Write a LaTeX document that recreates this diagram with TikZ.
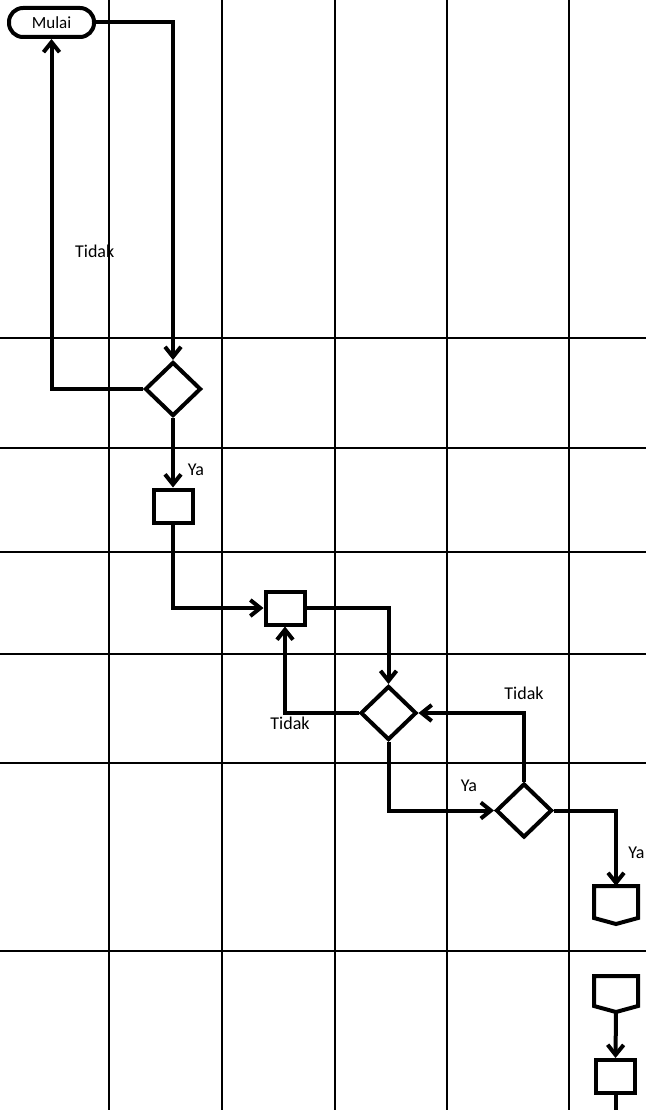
\documentclass[tikz,border=0pt]{standalone}
\usepackage{fontspec}
\setmainfont{Carlito}
\usetikzlibrary{arrows.meta,shapes.geometric}
\begin{document}
\begin{tikzpicture}[x=1pt,y=-1pt,
  gridline/.style={line width=2.4pt},
  conn/.style={line width=4pt},
  arr/.style={conn,-{Straight Barb[length=10pt,width=16pt]}},
  lbl/.style={font=\fontsize{18}{20}\selectfont, inner sep=0pt},
  decision/.style={diamond, draw, line width=4pt, minimum width=56pt, minimum height=54pt, inner sep=0pt},
  procbox/.style={rectangle, draw, line width=4pt, minimum width=39pt, minimum height=33pt, inner sep=0pt},
  terminal/.style={rectangle, draw, line width=4pt, rounded corners=14pt, minimum width=85pt, minimum height=29pt, inner sep=0pt, font=\fontsize{17}{19}\selectfont},
  offpage/.style={rectangle, minimum width=40pt, inner sep=0pt, outer sep=2pt}
]
\useasboundingbox (0,0) rectangle (646,1110);
% grid
\foreach \gx in {109,222,335,447,569} \draw[gridline] (\gx,0) -- (\gx,1110);
\foreach \gy in {338,448,552,654,763,951} \draw[gridline] (0,\gy) -- (646,\gy);

% nodes
\node[terminal] (mulai) at (51.5,22.5) {Mulai};
\node[decision] (d1) at (173,389) {};
\node[procbox] (b1) at (173,506) {};
\node[procbox] (b2) at (285,608) {};
\node[decision] (d2) at (388.5,713) {};
\node[decision] (d3) at (524,810.5) {};
\node[offpage, minimum height=34pt] (p1) at (616,905) {};
\node[offpage, minimum height=32pt] (p2) at (616,994) {};
\node[procbox] (b3) at (615.5,1076.5) {};
\coordinate (bottomend) at (615.5,1110);

% off-page connector outlines
\draw[conn] (p1.north west) -- (p1.north east) -- ([yshift=6pt]p1.south east) -- (p1.south) -- ([yshift=6pt]p1.south west) -- cycle;
\draw[conn] (p2.north west) -- (p2.north east) -- ([yshift=6pt]p2.south east) -- (p2.south) -- ([yshift=6pt]p2.south west) -- cycle;

% connectors
\draw[arr] (mulai.east) -| (d1.north);
\draw[arr] (d1.west) -| (mulai.south);
\draw[arr] (d1.south) -- (b1.north);
\draw[arr] (b1.south) |- (b2.west);
\draw[arr] (b2.east) -| (d2.north);
\draw[arr] (d2.west) -| (b2.south);
\draw[arr] (d3.north) |- (d2.east);
\draw[arr] (d2.south) |- (d3.west);
\draw[arr] (d3.east) -| (p1.north);
\draw[arr] (p2.south) -- (b3.north);
\draw[conn] (b3.south) -- (bottomend);

% labels
\node[lbl] (t1) at (94.7,251.5) {Tidak};
\node[lbl] (y1) at (196,470) {Ya};
\node[lbl] (t2) at (290,723) {Tidak};
\node[lbl] (t3) at (524,693) {Tidak};
\node[lbl] (y2) at (469,786) {Ya};
\node[lbl] (y3) at (636.5,853) {Ya};
\end{tikzpicture}
\end{document}
